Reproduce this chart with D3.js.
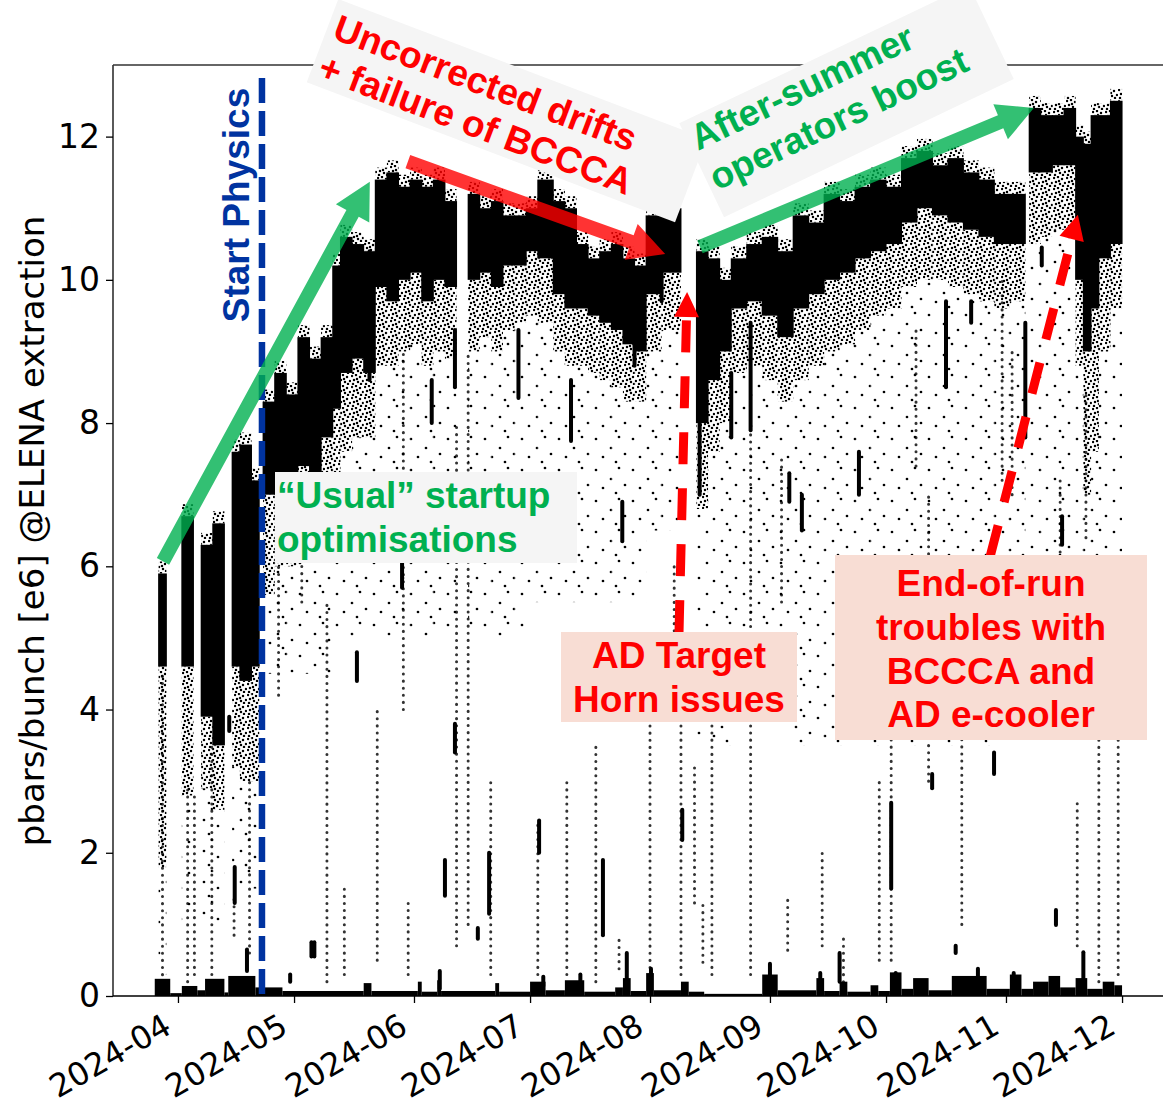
<!DOCTYPE html>
<html>
<head>
<meta charset="utf-8">
<script src="https://cdn.jsdelivr.net/npm/d3@7"></script>
<style>
  html, body { margin: 0; padding: 0; background: #fff; }
  svg { display: block; }
</style>
</head>
<body>
<svg id="chart" width="1163" height="1108"></svg>
<script>
// --- data ----------------------------------------------------------------

// dense band of extractions: segment boundaries (segment i = bandDays[i] .. bandDays[i+1])
const bandDays = ["2024-03-27","2024-03-29","2024-04-02","2024-04-05","2024-04-07","2024-04-10","2024-04-13","2024-04-15","2024-04-17","2024-04-20",
  "2024-04-22","2024-04-23","2024-04-26","2024-04-29","2024-05-02","2024-05-05","2024-05-08","2024-05-11","2024-05-13","2024-05-16",
  "2024-05-19","2024-05-22","2024-05-25","2024-05-28","2024-05-31","2024-06-03","2024-06-06","2024-06-09","2024-06-12","2024-06-15",
  "2024-06-18","2024-06-21","2024-06-24","2024-06-27","2024-06-30","2024-07-03","2024-07-07","2024-07-10","2024-07-13","2024-07-16",
  "2024-07-19","2024-07-22","2024-07-25","2024-07-28","2024-07-31","2024-08-04","2024-08-09","2024-08-13","2024-08-16","2024-08-19",
  "2024-08-22","2024-08-26","2024-08-30","2024-09-03","2024-09-07","2024-09-11","2024-09-15","2024-09-19","2024-09-23","2024-09-27",
  "2024-10-01","2024-10-05","2024-10-09","2024-10-13","2024-10-17","2024-10-21","2024-10-25","2024-10-29","2024-11-02","2024-11-06",
  "2024-11-07","2024-11-10","2024-11-13","2024-11-16","2024-11-19","2024-11-21","2024-11-23","2024-11-25","2024-11-28","2024-12-01"];
// top of the dense band (null = no beam)
const bandTop = [5.9,null,6.7,null,6.3,6.6,null,7.6,7.7,7.2,
  null,8.3,8.7,8.4,9.2,8.9,9.2,10.2,10.6,10.5,
  10.4,11.4,11.5,11.3,11.4,11.3,11.4,11.1,null,11.2,
  11.0,11.1,10.9,10.9,11.0,11.4,11.1,11.0,10.5,10.3,
  10.4,10.5,10.3,10.2,10.9,11.0,null,10.4,10.3,10.0,
  10.3,10.5,10.6,10.4,10.9,10.8,11.2,11.1,11.3,11.4,
  11.3,11.7,11.8,11.6,11.7,11.5,11.4,11.2,11.2,null,
  12.4,12.3,12.3,12.4,12.0,11.9,12.3,12.3,12.5];
// bottom of the solid part of the band
const bandLow = [4.6,null,4.6,null,3.9,3.5,null,4.6,4.4,4.6,
  null,7.0,7.2,7.1,7.4,7.3,7.8,8.2,8.7,8.9,
  8.7,9.9,9.7,10.0,10.1,9.7,10.0,9.9,null,10.0,
  10.1,9.9,10.2,10.2,10.4,10.3,9.8,9.6,9.6,9.5,
  9.4,9.3,9.1,9.0,9.8,10.1,null,8.0,8.6,9.0,
  9.6,9.7,9.5,9.2,9.6,9.8,10.0,10.1,10.3,10.4,
  10.5,10.8,11.0,10.9,10.8,10.7,10.6,10.5,10.5,null,
  11.5,11.5,11.6,11.6,10.0,9.0,9.6,10.3,10.5];
// lower edge of the dotted fringe below the band
const fringeLow = [1.8,null,2.8,null,2.9,2.6,null,3.2,3.0,3.0,
  null,5.6,6.0,6.0,6.3,6.4,6.8,7.2,7.6,7.8,
  7.8,8.8,8.8,9.0,9.1,8.8,9.0,8.9,null,9.0,
  9.2,9.0,9.3,9.4,9.5,9.4,9.0,8.8,8.8,8.7,
  8.6,8.5,8.3,8.3,9.0,9.3,null,6.8,7.6,8.0,
  8.7,8.8,8.6,8.3,8.6,8.8,9.0,9.1,9.3,9.5,
  9.6,9.9,10.0,10.0,9.9,9.8,9.7,9.6,9.7,null,
  10.5,10.6,10.7,10.6,8.8,7.0,7.6,9.0,9.6];
// lowest level reached by the loose scatter under each segment
const scatterLow = [0.3,null,1.0,null,1.0,1.0,null,1.5,1.5,1.5,
  null,4.5,4.5,4.5,4.5,4.5,4.5,5.0,5.0,5.0,
  5.0,5.0,5.0,5.0,5.0,5.0,5.0,5.0,null,5.0,
  5.0,5.0,5.0,5.0,5.5,5.5,5.5,5.5,5.5,5.5,
  5.5,5.5,5.5,5.5,6.5,6.5,null,3.5,3.5,3.5,
  4.0,4.0,4.0,4.0,3.5,3.5,3.5,3.5,3.5,3.5,
  3.5,3.5,3.5,3.5,3.5,3.5,3.5,3.5,4.0,null,
  5.5,5.5,5.5,5.5,5.0,5.0,5.0,5.0,5.0];

// vertical runs of points: [time, low, high, solid(1) or dotted(0)]
const streaks = [
  ["2024-03-28T00:00",0.1,4.5,0], ["2024-04-03T12:00",0.2,2.9,0], ["2024-04-05T06:00",0.3,2.8,0],
  ["2024-04-09T18:00",0.3,3.5,0], ["2024-04-14T06:00",3.7,3.9,1], ["2024-04-15T16:00",1.3,1.8,1],
  ["2024-04-15T12:00",0.85,1.35,0], ["2024-04-18T20:00",0.35,0.65,1], ["2024-04-19T12:00",0.6,3.0,0],
  ["2024-04-27T00:00",4.2,6.0,0], ["2024-04-30T00:00",0.2,0.3,1], ["2024-05-03T00:00",5.5,6.3,0],
  ["2024-05-05T12:00",0.55,0.75,1], ["2024-05-06T06:00",0.55,0.75,1], ["2024-05-09T12:00",0.2,5.5,0],
  ["2024-05-14T00:00",0.3,1.5,0], ["2024-05-17T06:00",4.4,4.8,1], ["2024-05-20T12:00",8.6,10.4,1],
  ["2024-05-22T12:00",0.5,4.0,0], ["2024-05-28T22:00",5.7,6.2,1], ["2024-05-29T06:00",4.0,9.0,0],
  ["2024-05-30T12:00",0.3,1.3,0], ["2024-06-05T14:00",8.0,8.6,1], ["2024-06-07T16:00",0.1,0.35,1],
  ["2024-06-09T00:00",1.4,1.9,1], ["2024-06-11T14:00",8.5,9.3,1], ["2024-06-11T14:00",3.4,3.8,1],
  ["2024-06-12T00:00",0.7,8.0,0], ["2024-06-15T00:00",1.0,9.0,0], ["2024-06-17T12:00",0.8,0.95,1],
  ["2024-06-20T10:00",1.15,2.0,1], ["2024-06-20T20:00",0.3,3.0,0], ["2024-06-28T00:00",8.35,9.3,1],
  ["2024-07-03T08:00",2.0,2.45,1], ["2024-07-03T00:00",0.3,2.4,0], ["2024-07-04T10:00",0.14,0.27,1],
  ["2024-07-10T12:00",0.3,3.0,0], ["2024-07-11T14:00",7.75,8.6,1], ["2024-07-14T00:00",0.1,0.3,1],
  ["2024-07-18T00:00",0.2,3.5,0], ["2024-07-19T20:00",0.85,1.9,1], ["2024-07-24T00:00",0.38,0.85,0],
  ["2024-07-24T20:00",6.35,6.9,1], ["2024-07-26T00:00",0.1,0.6,1], ["2024-07-28T00:00",8.8,9.3,1],
  ["2024-08-01T00:00",0.2,5.0,0], ["2024-08-01T06:00",0.14,0.38,1], ["2024-08-04T00:00",9.7,10.1,1],
  ["2024-08-07T06:00",5.0,6.0,0], ["2024-08-09T08:00",2.18,2.6,1], ["2024-08-09T00:00",0.3,5.5,0],
  ["2024-08-12T12:00",1.3,3.2,0], ["2024-08-13T20:00",7.0,8.0,1], ["2024-08-14T16:00",0.47,1.34,0],
  ["2024-08-17T00:00",0.3,4.5,0], ["2024-08-22T00:00",7.8,8.7,1], ["2024-08-27T00:00",7.9,9.4,1],
  ["2024-08-27T00:00",0.3,7.9,0], ["2024-09-01T00:00",0.03,0.45,1], ["2024-09-04T00:00",5.5,7.5,0],
  ["2024-09-05T14:00",0.64,1.34,0], ["2024-09-06T00:00",6.9,7.3,1], ["2024-09-09T06:00",6.5,7.0,1],
  ["2024-09-14T00:00",0.11,0.32,1], ["2024-09-14T12:00",0.7,2.0,0], ["2024-09-19T00:00",0.2,0.6,1],
  ["2024-09-20T00:00",0.1,0.8,0], ["2024-09-24T00:00",7.0,7.6,1], ["2024-09-29T06:00",0.5,3.0,0],
  ["2024-10-02T08:00",1.5,2.7,1], ["2024-10-02T08:00",0.5,5.0,0], ["2024-10-03T12:00",0.0,0.32,1],
  ["2024-10-08T18:00",7.4,9.3,0], ["2024-10-12T00:00",3.0,7.0,0], ["2024-10-12T22:00",2.9,3.1,1],
  ["2024-10-16T12:00",8.5,9.7,1], ["2024-10-19T00:00",0.6,0.7,1], ["2024-10-20T14:00",1.0,6.0,0],
  ["2024-10-23T00:00",9.4,9.7,1], ["2024-10-24T18:00",0.14,0.38,1], ["2024-10-28T22:00",3.1,3.4,1],
  ["2024-10-31T00:00",7.2,10.0,0], ["2024-11-02T14:00",7.0,9.0,0], ["2024-11-03T00:00",0.07,0.32,1],
  ["2024-11-06T00:00",7.8,9.4,1], ["2024-11-10T06:00",10.2,10.45,1], ["2024-11-13T22:00",0.99,1.2,1],
  ["2024-11-15T12:00",6.3,6.7,1], ["2024-11-15T00:00",6.2,7.2,0], ["2024-11-19T10:00",0.7,2.7,0],
  ["2024-11-21T00:00",0.11,0.61,1], ["2024-11-21T16:00",6.4,8.4,0], ["2024-11-25T00:00",0.2,4.0,0],
  ["2024-11-30T00:00",0.3,5.0,0]
];

// pile of near-zero points along the bottom
const floorDays = ["2024-03-26","2024-03-30","2024-04-02","2024-04-06","2024-04-08","2024-04-13","2024-04-14","2024-04-21","2024-04-28","2024-05-19",
  "2024-05-21","2024-06-02","2024-06-03","2024-06-07","2024-06-08","2024-06-22","2024-06-23","2024-07-01","2024-07-05","2024-07-10",
  "2024-07-15","2024-07-23","2024-07-25","2024-07-27","2024-07-31","2024-08-02","2024-08-09","2024-08-11","2024-08-15","2024-08-30",
  "2024-09-03","2024-09-13","2024-09-15","2024-09-19","2024-09-21","2024-09-27","2024-09-29","2024-10-02","2024-10-05","2024-10-08",
  "2024-10-12","2024-10-18","2024-10-27","2024-11-02","2024-11-05","2024-11-08","2024-11-12","2024-11-15","2024-11-19","2024-11-22",
  "2024-11-26","2024-11-29","2024-12-01"];
const floorHigh = [0.24,0.04,0.14,0.08,0.24,0.05,0.28,0.12,0.07,0.18,
  0.07,0.2,0.06,0.22,0.07,0.18,0.06,0.2,0.08,0.22,
  0.06,0.12,0.25,0.07,0.32,0.08,0.2,0.06,0.03,0.3,
  0.08,0.25,0.07,0.2,0.06,0.15,0.07,0.33,0.1,0.25,
  0.08,0.28,0.1,0.3,0.1,0.2,0.28,0.12,0.25,0.1,
  0.2,0.15];

const monthTicks = ["2024-04-01","2024-05-01","2024-06-01","2024-07-01","2024-08-01","2024-09-01","2024-10-01","2024-11-01","2024-12-01"];
const yTicks = [0, 2, 4, 6, 8, 10, 12];

// annotation anchors in data space
const physicsStart = "2024-04-22T17:00";
const solidArrows = [
  { from: ["2024-03-28T03:00", 6.07], to: ["2024-05-20T14:00", 11.37], color: "#00b050" },
  { from: ["2024-05-30T10:00", 11.65], to: ["2024-08-04T22:00", 10.36], color: "#ff0000" },
  { from: ["2024-08-13T22:00", 10.46], to: ["2024-11-08T05:00", 12.40], color: "#00b050" }
];
const dashedArrows = [
  { from: ["2024-08-08T12:00", 5.08], to: ["2024-08-10T14:00", 9.83] },
  { from: ["2024-10-27T22:00", 6.14], to: ["2024-11-19T14:00", 10.91] }
];

// --- scales ---------------------------------------------------------------
const parseDay = d3.utcParse("%Y-%m-%d");
const parseTime = d3.utcParse("%Y-%m-%dT%H:%M");
const toDate = s => s.length > 10 ? parseTime(s) : parseDay(s);

const svg = d3.select("#chart");
const plotLeft = 113, plotTop = 65, plotBottom = 996, plotRight = 1163;

const x = d3.scaleUtc()
  .domain([parseTime("2024-03-15T05:00"), parseTime("2024-12-11T14:00")])
  .range([plotLeft, plotRight]);
const y = d3.scaleLinear().domain([0, 13]).range([plotBottom, plotTop]);

// --- textures -------------------------------------------------------------
const defs = svg.append("defs");
defs.append("clipPath").attr("id", "plotClip")
  .append("rect").attr("x", plotLeft).attr("y", plotTop)
  .attr("width", plotRight - plotLeft).attr("height", plotBottom - plotTop);

function dotPattern(id, w, h, dots, r) {
  const p = defs.append("pattern").attr("id", id)
    .attr("patternUnits", "userSpaceOnUse").attr("width", w).attr("height", h);
  dots.forEach(d => p.append("circle").attr("cx", d[0]).attr("cy", d[1]).attr("r", r).attr("fill", "#000"));
}
dotPattern("denseDots", 13, 11, [[1,2],[5,1],[9,3],[12,7],[3,6],[7,8],[10,10],[2,10],[6,5]], 1.25);
dotPattern("sparseDots", 37, 31, [[4,5],[19,14],[11,23],[27,3],[33,20],[24,28]], 1.35);

// --- data marks -----------------------------------------------------------
const bandSegs = [];
for (let i = 0; i < bandTop.length; i++) {
  if (bandTop[i] == null) continue;
  bandSegs.push({ x0: toDate(bandDays[i]), x1: toDate(bandDays[i + 1]),
    top: bandTop[i], low: bandLow[i], fringe: fringeLow[i], scatter: scatterLow[i] });
}
const floorSegs = floorHigh.map((h, i) => ({ x0: toDate(floorDays[i]), x1: toDate(floorDays[i + 1]), h: h }));

const plot = svg.append("g").attr("clip-path", "url(#plotClip)");

plot.selectAll("rect.scatter").data(bandSegs).join("rect").attr("class", "scatter")
  .attr("x", d => x(d.x0)).attr("width", d => x(d.x1) - x(d.x0))
  .attr("y", d => y(d.fringe)).attr("height", d => y(d.scatter) - y(d.fringe))
  .attr("fill", "url(#sparseDots)");

plot.selectAll("rect.fringe").data(bandSegs).join("rect").attr("class", "fringe")
  .attr("x", d => x(d.x0)).attr("width", d => x(d.x1) - x(d.x0))
  .attr("y", d => y(d.low)).attr("height", d => y(d.fringe) - y(d.low))
  .attr("fill", "url(#denseDots)");

// loose points just above the band
plot.selectAll("rect.fuzz").data(bandSegs).join("rect").attr("class", "fuzz")
  .attr("x", d => x(d.x0)).attr("width", d => x(d.x1) - x(d.x0))
  .attr("y", d => y(d.top) - 12).attr("height", 12)
  .attr("fill", "url(#denseDots)");

plot.selectAll("rect.band").data(bandSegs).join("rect").attr("class", "band")
  .attr("x", d => x(d.x0) - 0.5).attr("width", d => x(d.x1) - x(d.x0) + 1)
  .attr("y", d => y(d.top)).attr("height", d => y(d.low) - y(d.top))
  .attr("fill", "#000");

plot.selectAll("line.streak").data(streaks).join("line").attr("class", "streak")
  .attr("x1", d => x(toDate(d[0]))).attr("x2", d => x(toDate(d[0])))
  .attr("y1", d => y(d[1])).attr("y2", d => y(d[2]))
  .attr("stroke", "#000")
  .attr("stroke-width", d => d[3] ? 4 : 3)
  .attr("stroke-linecap", "round")
  .attr("stroke-dasharray", d => d[3] ? null : "0.1 7")
  .attr("opacity", d => d[3] ? 1 : 0.8);

plot.selectAll("rect.floor").data(floorSegs).join("rect").attr("class", "floor")
  .attr("x", d => x(d.x0)).attr("width", d => x(d.x1) - x(d.x0))
  .attr("y", d => y(d.h)).attr("height", d => y(0) - y(d.h) + 1)
  .attr("fill", "#000");

// --- axes -----------------------------------------------------------------
const xAxis = d3.axisBottom(x)
  .tickValues(monthTicks.map(parseDay))
  .tickFormat(d3.utcFormat("%Y-%m"))
  .tickSize(7);
const gx = svg.append("g").attr("transform", `translate(0,${plotBottom})`).call(xAxis);
gx.select(".domain").remove();
gx.selectAll(".tick line").attr("stroke", "#000").attr("stroke-width", 1.3);
gx.selectAll(".tick text")
  .attr("x", 0).attr("y", 0).attr("dy", null)
  .attr("transform", "translate(-5,36) rotate(-30)")
  .attr("text-anchor", "end")
  .attr("fill", "#000")
  .style("font-family", "'DejaVu Sans', sans-serif")
  .style("font-size", "32px");

const yAxis = d3.axisLeft(y).tickValues(yTicks).tickSize(7).tickPadding(6);
const gy = svg.append("g").attr("transform", `translate(${plotLeft},0)`).call(yAxis);
gy.select(".domain").remove();
gy.selectAll(".tick line").attr("stroke", "#000").attr("stroke-width", 1.3);
gy.selectAll(".tick text")
  .attr("fill", "#000")
  .style("font-family", "'DejaVu Sans', sans-serif")
  .style("font-size", "33px");

// spines
svg.append("line").attr("x1", plotLeft).attr("x2", plotLeft).attr("y1", plotTop).attr("y2", plotBottom)
  .attr("stroke", "#000").attr("stroke-width", 1.3);
svg.append("line").attr("x1", plotLeft).attr("x2", plotRight).attr("y1", plotBottom).attr("y2", plotBottom)
  .attr("stroke", "#000").attr("stroke-width", 1.3);
svg.append("line").attr("x1", plotLeft).attr("x2", plotRight).attr("y1", plotTop).attr("y2", plotTop)
  .attr("stroke", "#333").attr("stroke-width", 1.3);

svg.append("text")
  .attr("transform", "translate(44,531) rotate(-90)")
  .attr("text-anchor", "middle")
  .attr("fill", "#000")
  .style("font-family", "'DejaVu Sans', sans-serif")
  .style("font-size", "34px")
  .text("pbars/bunch [e6] @ELENA extraction");

// --- annotations ------------------------------------------------------------
const pt = d => [x(toDate(d[0])), y(d[1])];
const boldFont = "'Liberation Sans', Arial, sans-serif";

// start of physics
const xs = x(toDate(physicsStart));
svg.append("line")
  .attr("x1", xs).attr("x2", xs).attr("y1", y(12.82)).attr("y2", y(0))
  .attr("stroke", "#0033a0").attr("stroke-width", 6.5)
  .attr("stroke-dasharray", "25 8");
svg.append("text")
  .attr("transform", `translate(${xs - 13},205) rotate(-90)`)
  .attr("text-anchor", "middle")
  .attr("fill", "#0033a0")
  .style("font-family", boldFont).style("font-weight", "bold").style("font-size", "37px")
  .text("Start Physics");

function arrowPath(p0, p1, w, hw, hl) {
  const dx = p1[0] - p0[0], dy = p1[1] - p0[1], L = Math.hypot(dx, dy);
  const ux = dx / L, uy = dy / L, nx = -uy, ny = ux;
  const bx = p1[0] - ux * hl, by = p1[1] - uy * hl;
  const pts = [
    [p0[0] + nx * w / 2, p0[1] + ny * w / 2], [bx + nx * w / 2, by + ny * w / 2],
    [bx + nx * hw / 2, by + ny * hw / 2], p1,
    [bx - nx * hw / 2, by - ny * hw / 2], [bx - nx * w / 2, by - ny * w / 2],
    [p0[0] - nx * w / 2, p0[1] - ny * w / 2]];
  return "M" + pts.map(p => p.join(",")).join("L") + "Z";
}

// the grey text boxes (drawn under the arrows)
function rotatedBox(tx, ty, angle, box, lines, color, gap) {
  const g = svg.append("g").attr("transform", `translate(${tx},${ty}) rotate(${angle})`);
  g.append("rect").attr("x", box[0]).attr("y", box[1]).attr("width", box[2]).attr("height", box[3]).attr("fill", "#f5f5f5");
  lines.forEach((t, i) => g.append("text").attr("x", 0).attr("y", i * gap)
    .attr("fill", color)
    .style("font-family", boldFont).style("font-weight", "bold").style("font-size", "37px")
    .text(t));
}
rotatedBox(331, 38, 20.8, [-7, -39, 394, 89], ["Uncorrected drifts", "+ failure of BCCCA"], "#ff0000", 42);
rotatedBox(698, 151, -25.5, [-5, -33, 321, 104], ["After-summer", "operators boost"], "#00b050", 44);

solidArrows.forEach(a => {
  svg.append("path").attr("d", arrowPath(pt(a.from), pt(a.to), 14, 38, 36))
    .attr("fill", a.color).attr("opacity", 0.8);
});

dashedArrows.forEach(a => {
  const p0 = pt(a.from), p1 = pt(a.to);
  const dx = p1[0] - p0[0], dy = p1[1] - p0[1], L = Math.hypot(dx, dy);
  const hl = 25;
  const base = [p1[0] - dx / L * hl, p1[1] - dy / L * hl];
  svg.append("line").attr("x1", p0[0]).attr("y1", p0[1]).attr("x2", base[0]).attr("y2", base[1])
    .attr("stroke", "#ff0000").attr("stroke-width", 9).attr("stroke-dasharray", "32 24");
  svg.append("path").attr("d", arrowPath(base, p1, 0, 25, hl)).attr("fill", "#ff0000");
});

function flatBox(bx, by, bw, bh, fill, lines, color, anchor, tx, baselines) {
  svg.append("rect").attr("x", bx).attr("y", by).attr("width", bw).attr("height", bh).attr("fill", fill);
  lines.forEach((t, i) => svg.append("text").attr("x", tx).attr("y", baselines[i])
    .attr("text-anchor", anchor).attr("fill", color)
    .style("font-family", boldFont).style("font-weight", "bold").style("font-size", "37px")
    .text(t));
}
flatBox(275, 472, 302, 91, "#f5f5f5", ["\u201cUsual\u201d startup", "optimisations"], "#00b050", "start", 277, [508, 552]);
flatBox(561, 632, 236, 90, "#f8ddd4", ["AD Target", "Horn issues"], "#ff0000", "middle", 679, [668, 712]);
flatBox(835, 555, 312, 185, "#f8ddd4", ["End-of-run", "troubles with", "BCCCA and", "AD e-cooler"], "#ff0000", "middle", 991, [596, 640, 684, 727]);
</script>
</body>
</html>
